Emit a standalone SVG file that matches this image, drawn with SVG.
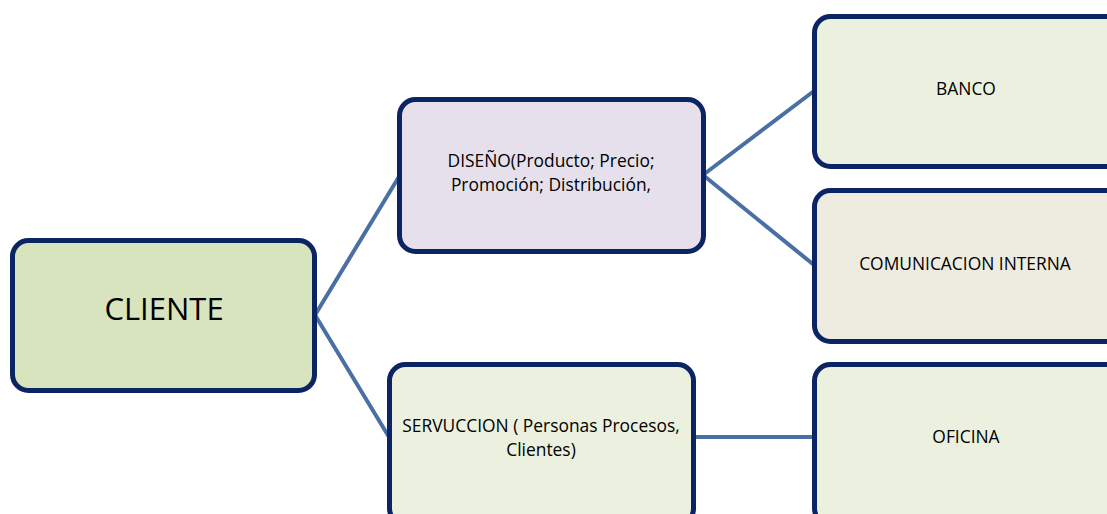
<svg xmlns="http://www.w3.org/2000/svg" width="1107" height="514" viewBox="0 0 1107 514">
<style>
.box{stroke:#0b2463;stroke-width:5}
.t{font-family:"Open Sans","Liberation Sans",sans-serif;fill:#000;text-anchor:middle}
.s{font-size:17.4px}
.c{stroke:#4a6fa5;stroke-width:4;fill:none}
</style>
<rect width="1107" height="514" fill="#fff"/>
<g id="connectors">
<line class="c" x1="315" y1="315" x2="400" y2="175"/>
<line class="c" x1="315" y1="315" x2="389" y2="437"/>
<line class="c" x1="703" y1="175" x2="814" y2="91"/>
<line class="c" x1="703" y1="175" x2="814" y2="265"/>
<line class="c" x1="694" y1="437" x2="814" y2="437"/>
</g>
<g id="cliente">
<rect class="box" x="12.5" y="240.5" width="302" height="150" rx="16" fill="#d7e4bd"/>
<text class="t" x="164" y="320" font-size="31">CLIENTE</text>
</g>
<g id="diseno">
<rect class="box" x="399.5" y="99.5" width="304" height="152" rx="16" fill="#e5e0ec"/>
<text class="t s" x="551" y="167">DISEÑO(Producto; Precio;</text>
<text class="t s" x="551" y="191">Promoción; Distribución,</text>
</g>
<g id="banco">
<rect class="box" x="814.5" y="16.5" width="310" height="150" rx="16" fill="#ebf1de"/>
<text class="t s" x="966" y="95">BANCO</text>
</g>
<g id="comunicacion">
<rect class="box" x="814.5" y="190.5" width="310" height="151" rx="16" fill="#eeece1"/>
<text class="t s" x="965" y="270">COMUNICACION INTERNA</text>
</g>
<g id="servuccion">
<rect class="box" x="389.5" y="364.5" width="304" height="160" rx="16" fill="#ebf1de"/>
<text class="t s" x="541" y="432">SERVUCCION ( Personas Procesos,</text>
<text class="t s" x="541" y="456">Clientes)</text>
</g>
<g id="oficina">
<rect class="box" x="814.5" y="364.5" width="310" height="160" rx="16" fill="#ebf1de"/>
<text class="t s" x="966" y="443">OFICINA</text>
</g>
</svg>
